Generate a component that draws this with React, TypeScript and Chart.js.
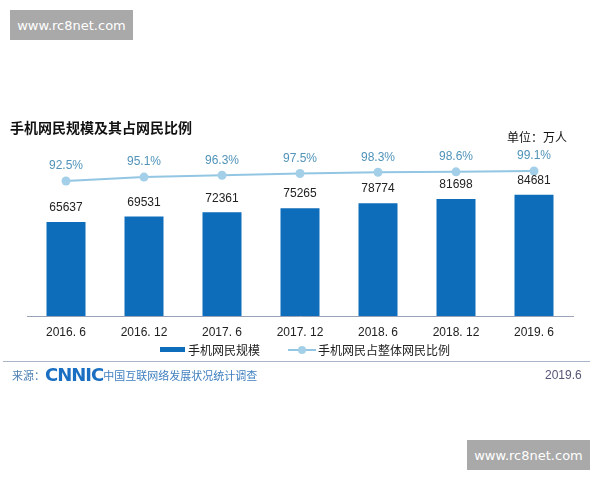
import React, { useEffect, useRef } from "react";
import { Chart, registerables } from "chart.js";

Chart.register(...registerables);

const categories = ["2016. 6", "2016. 12", "2017. 6", "2017. 12", "2018. 6", "2018. 12", "2019. 6"];
const mobileUsers = [65637, 69531, 72361, 75265, 78774, 81698, 84681];
const mobileShare = [92.5, 95.1, 96.3, 97.5, 98.3, 98.6, 99.1];

const barColor = "#0e6dbb";
const lineColor = "#92c6e2";
const pctColor = "#5193b9";
const cjk = '"Noto Sans CJK SC", "Liberation Sans", sans-serif';
const num = '"Liberation Sans", "DejaVu Sans", sans-serif';

const labelPlugin = {
  id: "valueLabels",
  afterDatasetsDraw(chart: any) {
    const ctx = chart.ctx;
    ctx.save();
    ctx.textAlign = "center";
    ctx.textBaseline = "middle";
    const barMeta = chart.getDatasetMeta(0);
    ctx.font = `12px ${num}`;
    ctx.fillStyle = "#222";
    barMeta.data.forEach((el: any, i: number) => {
      ctx.fillText(String(mobileUsers[i]), el.x, el.y - 14);
    });
    const lineMeta = chart.getDatasetMeta(1);
    ctx.font = `12px ${num}`;
    ctx.fillStyle = pctColor;
    lineMeta.data.forEach((el: any, i: number) => {
      ctx.fillText(mobileShare[i].toFixed(1) + "%", el.x, el.y - 15);
    });
    ctx.restore();
  },
};

export default function App() {
  const ref = useRef<HTMLCanvasElement | null>(null);
  useEffect(() => {
    if (!ref.current) return;
    const chart = new Chart(ref.current, {
      type: "bar",
      data: {
        labels: categories,
        datasets: [
          {
            type: "bar",
            label: "手机网民规模",
            data: mobileUsers,
            backgroundColor: barColor,
            yAxisID: "y",
            barPercentage: 0.5,
            categoryPercentage: 1,
            order: 2,
          },
          {
            type: "line",
            label: "手机网民占整体网民比例",
            data: mobileShare,
            borderColor: lineColor,
            backgroundColor: lineColor,
            borderWidth: 2,
            pointRadius: 4.5,
            pointBackgroundColor: "#a3d0e8",
            pointBorderWidth: 0,
            yAxisID: "y1",
            order: 1,
          } as any,
        ],
      },
      options: {
        responsive: false,
        animation: false,
        layout: { padding: { left: 27, right: 27, top: 160, bottom: 0 } },
        plugins: {
          legend: { display: false },
          tooltip: { enabled: false },
          title: { display: false },
        },
        scales: {
          x: {
            grid: { display: false, drawTicks: false },
            border: { display: true, color: "#9aa3b5", width: 1 },
            ticks: { color: "#222", font: { family: num, size: 12 }, padding: 9 },
            afterFit: (scale: any) => {
              scale.height = 164;
            },
          },
          y: { display: false, min: 0, max: 108900 },
          y1: { display: false, min: 3.4, max: 106.4 },
        },
      },
      plugins: [labelPlugin],
    });
    return () => chart.destroy();
  }, []);

  const wm: React.CSSProperties = {
    position: "absolute",
    width: 123,
    height: 30,
    background: "#a9a9a9",
    color: "#fff",
    fontFamily: '"DejaVu Sans", sans-serif',
    fontSize: 13,
    display: "flex",
    alignItems: "center",
    justifyContent: "center",
  };

  return (
    <div style={{ position: "fixed", left: 0, top: 0, width: 600, height: 480, background: "#fff", overflow: "hidden" }}>
      <canvas ref={ref} width={600} height={480} style={{ position: "absolute", left: 0, top: 0 }} />
      <div style={{ ...wm, left: 10, top: 10 }}>www.rc8net.com</div>
      <div style={{ ...wm, left: 467, top: 440 }}>www.rc8net.com</div>
      <div style={{ position: "absolute", left: 10, top: 117, fontFamily: cjk, fontWeight: 700, fontSize: 14, color: "#111", whiteSpace: "nowrap" }}>
        手机网民规模及其占网民比例
      </div>
      <div style={{ position: "absolute", left: 507, top: 128, fontFamily: cjk, fontSize: 12, color: "#111", whiteSpace: "nowrap" }}>
        单位：万人
      </div>
      <div style={{ position: "absolute", left: 160, top: 341, display: "flex", alignItems: "center", fontFamily: cjk, fontSize: 12, color: "#222", whiteSpace: "nowrap" }}>
        <span style={{ display: "inline-block", width: 25, height: 5, background: barColor, marginRight: 3 }} />
        <span>手机网民规模</span>
        <span style={{ position: "relative", display: "inline-block", width: 28, height: 2, background: lineColor, marginLeft: 28, marginRight: 2 }}>
          <span style={{ position: "absolute", left: 10, top: -3, width: 8, height: 8, borderRadius: 4, background: "#a3d0e8" }} />
        </span>
        <span>手机网民占整体网民比例</span>
      </div>
      <div style={{ position: "absolute", left: 3, top: 361, width: 587, height: 1, background: "#a8b4c8" }} />
      <div style={{ position: "absolute", left: 12, top: 364, display: "flex", alignItems: "center", whiteSpace: "nowrap" }}>
        <span style={{ fontFamily: cjk, fontSize: 11, color: "#4a7fb0" }}>来源：</span>
        <span style={{ fontFamily: '"DejaVu Sans", sans-serif', fontWeight: 900, fontSize: 18, color: "#1a6fc2", letterSpacing: -1, marginLeft: 0 }}>CNNIC</span>
        <span style={{ fontFamily: cjk, fontSize: 11, color: "#3f7fbf" }}>中国互联网络发展状况统计调查</span>
      </div>
      <div style={{ position: "absolute", left: 545, top: 368, fontFamily: num, fontSize: 12, color: "#557" }}>2019.6</div>
    </div>
  );
}
